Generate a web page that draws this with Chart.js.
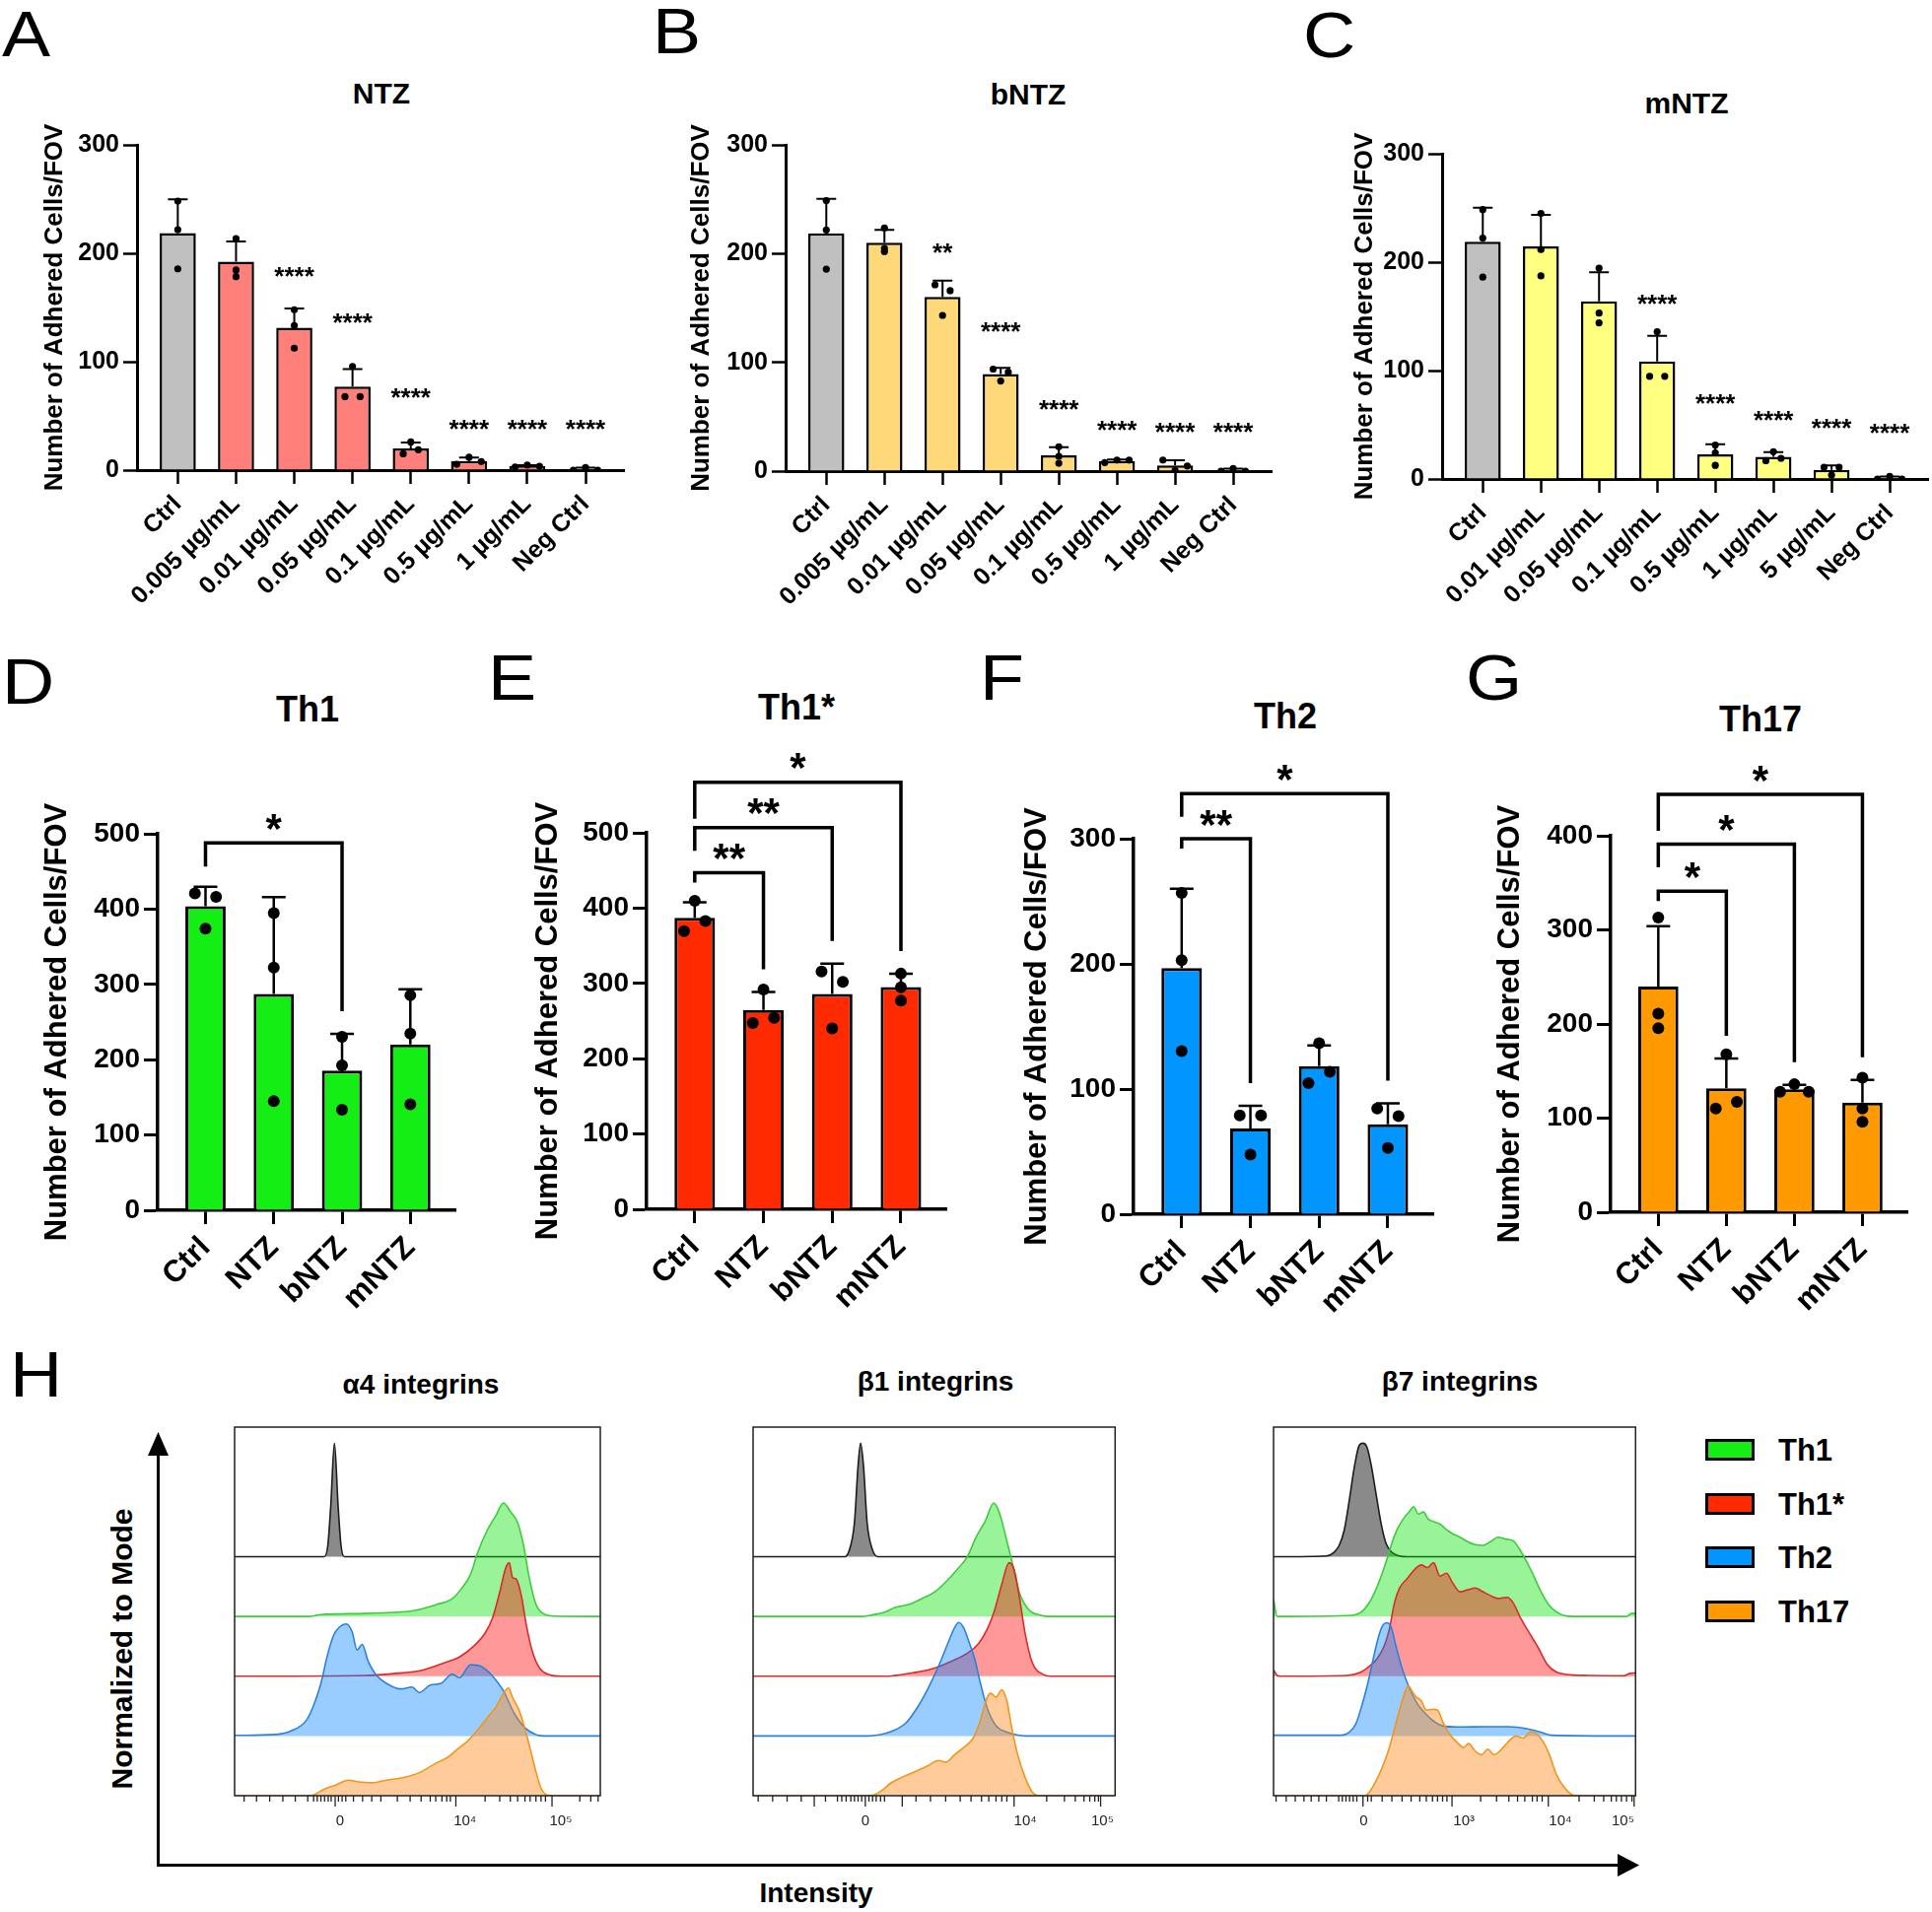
<!DOCTYPE html>
<html>
<head>
<meta charset="utf-8">
<script src="https://cdn.jsdelivr.net/npm/chart.js@4.4.1/dist/chart.umd.min.js"></script>
<style>
  body { margin: 0; background: #fff; width: 1960px; height: 1940px; position: relative; overflow: hidden;
         font-family: "Liberation Sans", Arial, sans-serif; color: #000; }
  canvas { position: absolute; }
  .txt { position: absolute; line-height: 1; white-space: nowrap; }
  .sw { position: absolute; box-sizing: border-box; border: 3px solid #000; width: 50px; height: 22px; }
</style>
</head>
<body>
<script>
// ---------- adhesion assays: replicate counts per condition (dots), bars = mean, whisker = +SD ----------
const concLabelsNTZ = ['Ctrl', '0.005 µg/mL', '0.01 µg/mL', '0.05 µg/mL', '0.1 µg/mL', '0.5 µg/mL', '1 µg/mL', 'Neg Ctrl'];
const concLabelsMNTZ = ['Ctrl', '0.01 µg/mL', '0.05 µg/mL', '0.1 µg/mL', '0.5 µg/mL', '1 µg/mL', '5 µg/mL', 'Neg Ctrl'];

const ntzReps  = [[248.1, 221.8, 185.7], [213.5, 184.6, 178.5], [147.9, 133.4, 112.5], [67.8, 95.6, 67.8],
                  [15.1, 26, 18.8], [5.4, 11.9, 7.9], [2.9, 4.7, 3.6], [0, 2.5, 0]];
const bntzReps = [[248.8, 221.8, 185.7], [223.6, 204.8, 202], [171.3, 143.2, 165.9], [93.8, 82.9, 90.9],
                  [22.4, 13.6, 7.2], [7.9, 10.1, 10.1], [10.1, 0.5, 4.7], [0, 2.5, 0]];
const mntzReps = [[248.5, 222.2, 186.2], [244.9, 211.7, 187.3], [194.5, 153, 144], [94.7, 135.8, 94.7],
                  [31.3, 24.1, 12.6], [16.9, 25.2, 19.1], [10.8, 3.6, 10.8], [0, 2.5, 0]];

const ntzStars  = ['', '', '****', '****', '****', '****', '****', '****'];
const bntzStars = ['', '', '**', '****', '****', '****', '****', '****'];
const mntzStars = ['', '', '', '****', '****', '****', '****', '****'];
const ntzStarAt  = [0, 0, 185, 142, 73, 44, 44, 44];
const bntzStarAt = [0, 0, 207, 134, 63, 44, 42, 42];
const mntzStarAt = [0, 0, 0, 167.5, 75.6, 60.5, 52.9, 48.6];

const subsetLabels = ['Ctrl', 'NTZ', 'bNTZ', 'mNTZ'];
const th1Reps  = [[420.9, 374, 416.2], [394.5, 322.4, 144.8], [230.4, 192.3, 133.6], [285.5, 234.5, 140.7]];
const th1sReps = [[369.3, 409.7, 382.8], [247.4, 291.9, 254.4], [315.9, 240.3, 301.9], [313, 294.8, 277.3]];
const th2Reps  = [[256.6, 203, 130.3], [79, 47.7, 79], [104.8, 136.6, 113.7], [84.4, 52.9, 78.4]];
const th17Reps = [[313.2, 211, 195.5], [110.2, 167.9, 117.2], [128, 136, 128], [143, 110.2, 96.1]];

// comparisons: [from, to, label, bracket level]
const th1Brackets  = [[0, 2, '*', 488]];
const th1sBrackets = [[0, 1, '**', 447], [0, 2, '**', 507], [0, 3, '*', 567]];
const th2Brackets  = [[0, 1, '**', 300], [0, 3, '*', 336]];
const th17Brackets = [[0, 1, '*', 341], [0, 2, '*', 391], [0, 3, '*', 444]];

// ---------- flow cytometry histograms: [intensity position (% of axis), % of mode] ----------
const a4Iso  = [[0,0],[24.5,0],[25.5,10],[26.3,45],[27.3,100],[28.3,45],[29.1,10],[30,0],[100,0]];
const a4Th1  = [[0,0],[20,0],[23.6,1.6],[35.5,2.6],[43.5,3.6],[48.5,4.9],[55.5,10.8],[59.5,15.7],[61.9,23.9],[64.5,36.9],[66.5,56.5],[69.1,76.1],[71.5,89.2],[73.5,100],[75.4,92.5],[77.4,82.7],[79,63],[80.4,37],[82.4,10.8],[84.4,2.6],[87.4,0.3],[100,0]];
const a4Th1s = [[0,0],[35.5,0.7],[43.5,2.3],[51.5,5.5],[57.5,12],[61.5,17],[65.5,26.8],[68.5,38],[70.5,51],[72.5,74],[74.1,95],[75.1,100],[76,87],[77,85.6],[78.4,71],[79.8,44.6],[81.4,21.9],[83.4,7.2],[86.4,1],[89.4,0],[100,0]];
const a4Th2  = [[0,0.5],[11.2,1.3],[15.6,4.6],[19.6,13.7],[21.6,26.8],[23.6,46.4],[25.5,72.5],[27.1,88.9],[28.5,95.4],[30.5,98.7],[32.1,92.2],[33.5,75.8],[34.9,80.7],[36.5,66],[38.5,54.6],[41.5,46.4],[45.5,41.5],[48.5,43.1],[50.5,38.2],[53.5,44.8],[56.5,46.4],[59.5,54.6],[61.5,51.3],[64.5,62.7],[67.5,61.1],[70.5,52.9],[73.5,39.9],[76.4,20.3],[79.4,7.2],[82.4,1.3],[85.4,0],[100,0]];
const a4Th17 = [[0,0],[20,0],[21.6,0.7],[24.6,5.9],[27.5,9.2],[31.1,13.7],[33.5,12.4],[37.5,11.4],[41.5,13.7],[46.5,16.3],[50.5,20.3],[55.5,29.4],[58.5,34.3],[61.5,42.5],[63.5,47.4],[66.5,58.2],[69.1,68.6],[71.5,78.4],[73.5,89.9],[74.9,94.8],[76,86.6],[77.8,75.2],[79.4,58.8],[81,39.2],[82.4,21.2],[83.8,6.5],[85.4,0.7],[87.4,0],[100,0]];

const b1Iso  = [[0,0],[25,0],[26.5,5],[28,30],[29,80],[29.7,100],[30.5,80],[31.5,30],[33,6],[34.5,0],[100,0]];
const b1Th1  = [[0,0],[30,0],[32.3,1],[36.3,3.8],[39.2,7.9],[43.2,10.7],[47.2,16.6],[50.2,21.7],[53.2,30.3],[56.2,40.7],[59.2,52.8],[61.6,70],[64.1,83.8],[66.5,100],[68.1,90.7],[70.1,66.6],[71.7,45.9],[73.5,21.7],[76.1,6.2],[79.5,1],[82.1,0],[100,0]];
const b1Th1s = [[0,0],[35,0],[38.2,0.3],[44.2,3],[50.2,7.2],[55.2,13.8],[59.2,20.3],[62.2,28.5],[64.7,41.6],[66.7,58],[68.7,81],[70.7,100],[72.1,94],[73.5,71],[75.1,38.4],[77.1,12.1],[80.1,1.6],[82.1,0],[100,0]];
const b1Th2  = [[0,0],[32,0],[34.3,0.7],[38.2,4],[42.2,11.4],[45.2,24.2],[48.2,41.1],[51.2,61.3],[53.8,81.5],[55.6,95],[56.8,100],[58.2,95],[59.6,83.2],[61.2,68],[62.7,47.8],[64.7,24.2],[67.1,9.1],[70.1,3.4],[73.1,0.7],[75.1,0],[100,0]];
const b1Th17 = [[0,0],[31,0],[33.3,0.7],[35.7,4.9],[38.2,11.5],[41.2,16.4],[44.8,21.3],[48.2,26.2],[51.2,31.1],[53.2,29.5],[55.6,36],[58.2,42.6],[60.8,50.8],[62.7,65.6],[64.7,86.9],[65.7,90.2],[67.1,86.9],[68.7,93.4],[70.1,83.6],[71.5,59],[73.1,36],[75.1,16.4],[77.1,3.3],[79.1,0],[100,0]];

const b7Iso  = [[0,0],[14.6,0.7],[16.7,3.9],[18.1,9.8],[19.5,23],[20.9,49.2],[22.3,78.7],[23.7,98.4],[24.7,100],[25.8,96.7],[26.9,82],[28.3,55.7],[29.7,29.5],[31.1,11.5],[32.7,3.9],[34.8,0.7],[36.9,0],[100,0]];
const b7Th1  = [[0,15],[1,0],[21.6,1],[24.4,4.3],[26.5,12.5],[28.3,23.9],[29.9,37],[31.3,50.2],[32.7,64.9],[34.1,76.4],[35.9,86.2],[37.6,92.8],[38.7,96.7],[40,90.2],[41.4,92.1],[42.8,85.6],[44.2,83.6],[46,81.3],[47.8,76.4],[49.4,73.1],[51.5,69.8],[53.6,65.9],[55.7,63.3],[57.8,62.6],[59.9,65.9],[62,69.8],[64.1,68.2],[66.2,66.6],[67.8,60],[69.6,50.2],[71.7,37],[73.8,22.3],[75.9,10.8],[78,4.3],[80.1,1],[82.9,0],[97.5,0],[98.9,2.6],[100,2.6]];
const b7Th1s = [[0,5.6],[1,0.7],[2,0],[20.2,0.7],[23.7,3],[26.5,8.9],[28.6,15.4],[30.6,26.9],[32,41.6],[33.4,64.6],[34.8,77.7],[36.9,85.9],[39,94.1],[40.8,98],[42.5,95.7],[44.2,100],[46,88.2],[47.8,90.8],[49.4,82.6],[51.5,74.4],[53.6,76.1],[55.7,77.7],[57.8,74.4],[59.9,71.1],[62,68.5],[64.5,69.5],[66.2,64.6],[68.2,51.5],[70.3,40],[73.1,25.2],[75.6,10.5],[78,3.9],[80.8,1.6],[87,0.7],[96.8,0.3],[98.2,2.3],[100,3]];
const b7Th2  = [[0,0.7],[18.8,0.7],[20.9,3.3],[22.7,10.5],[24.4,26.9],[25.8,43.3],[27.2,63],[28.6,82.6],[29.9,95.7],[31.3,99.7],[32.5,95.7],[33.8,79.3],[35.5,59.7],[37.6,41.6],[39.7,28.5],[41.8,20.3],[43.9,13.8],[46.7,8.9],[50.8,7.9],[59.2,8.2],[64.8,8.2],[70.3,6.2],[73.8,3.3],[76.6,0.7],[100,0]];
const b7Th17 = [[0,0],[25.1,0],[26.5,3.3],[28.6,14.8],[30.6,29.5],[32,42.6],[33.4,59],[34.8,75.4],[36.2,90.2],[37.2,96.7],[38.3,91.8],[39.4,86.9],[40.8,83.6],[42.2,75.4],[43.9,76.1],[45.3,75.4],[46.9,63.9],[48.7,54.1],[50.8,46.6],[52.5,42.6],[53.9,45.9],[55.7,39.3],[57.5,36.1],[59.2,41],[60.9,36.1],[62.7,40],[64.8,47.5],[66.9,52.5],[69,50.8],[71,56.4],[72.8,54.1],[74.5,47.5],[76.2,36.1],[78,19.7],[80.1,8.2],[82.6,0.7],[84.3,0],[100,0]];

// axis tick labels of the cytometry plots
const a4TickPos = [28.8, 63, 89.2],       a4TickText = ['0', '10⁴', '10⁵'];
const b1TickPos = [31, 75.2, 96.5],       b1TickText = ['0', '10⁴', '10⁵'];
const b7TickPos = [24.9, 52.6, 79.2, 96.5], b7TickText = ['0', '10³', '10⁴', '10⁵'];
const a4Major = [27.5, 60.5, 86.8];
const a4Minor = [2.6,6,9.6,13.2,16.6,20,21.6,22.6,23.6,24.6,25.6,26.4,28.4,29.4,30.4,32.5,35,37.5,40,44.5,48,51,53.5,55,56.7,58,59,68.5,72.5,75.4,77.4,79.4,80.8,82.4,83.8,85,94.4,97.4,99.4];
const b1Major = [16.9, 31, 41.2, 72.1, 96];
const b1Minor = [1.4,5.4,9.4,13.3,20,23.3,24.5,25.7,27,28,29,30,32,33,34,35.2,36.3,45,49,53.2,57.2,60.2,63.1,65.1,67.1,68.7,70.1,81.1,86,89,91.4,93,94.4,95.4];
const b7Major = [24.7, 49.3, 75.9, 99.6];
const b7Minor = [0.7,3.5,6,8.4,10.4,12.5,14.6,18,19,20,21,22,23,26,27,30,32.7,35.5,38,40.4,42.2,43.9,45.3,46.7,47.9,57.2,61.6,65,67.4,69.4,71.5,72.8,74.2,84.4,88.6,91.2,93.3,94.7,96.1,97.5,99];

// ---------- helpers ----------
const FONT = '"Liberation Sans", Arial, sans-serif';
Chart.defaults.font.family = FONT;
Chart.defaults.color = '#000';
const CTRL_GREY = '#c0c0c0';

const mean = a => a.reduce((s, v) => s + v, 0) / a.length;
const sd = a => { const m = mean(a); return Math.sqrt(a.reduce((s, v) => s + (v - m) ** 2, 0) / (a.length - 1)); };

function text(str, x, y, size, o = {}) {
  const d = document.createElement('div');
  d.className = 'txt';
  d.textContent = str;
  d.style.left = x + 'px';
  d.style.top = y + 'px';
  d.style.fontSize = size + 'px';
  d.style.fontWeight = o.weight || 'bold';
  if (o.left) d.style.transformOrigin = '0 50%';
  d.style.transform = `translate(${o.left ? '0' : '-50%'}, -50%)` +
    (o.rotate ? ` rotate(${o.rotate}deg)` : '') + (o.sx ? ` scaleX(${o.sx})` : '');
  document.body.appendChild(d);
}

function canvasAt(left, top, w, h) {
  const c = document.createElement('canvas');
  c.width = w; c.height = h;
  c.style.left = left + 'px'; c.style.top = top + 'px';
  c.style.width = w + 'px'; c.style.height = h + 'px';
  document.body.appendChild(c);
  return c;
}

// ---------- bar panels ----------
const topStyle = { tick: 25, ytitle: 26, xlab: 25, star: 26, dot: 3.6, barPct: 0.62, barBorder: 2.5, errW: 2, cap: 20,
                   axisW: 3, tickW: 2.5, xh: 175, xpad: 6, spread: [0, 0.13, 0.21], greyCtrl: true };
const midStyle = { tick: 28, ytitle: 31, xlab: 31, star: 42, dot: 6, barPct: 0.59, barBorder: 3, errW: 2.5, cap: 24,
                   axisW: 3.5, tickW: 3, xh: 130, xpad: 6, spread: [0, 0.155, 0.21], greyCtrl: false };

function annotations(p, tops) {
  const st = p.style;
  return {
    id: 'annot',
    afterDatasetDraw(chart, args) {
      if (args.index !== 0) return;
      const { ctx, scales: { x, y } } = chart;
      ctx.save();
      ctx.strokeStyle = '#000';
      ctx.lineWidth = st.errW;
      ctx.beginPath();
      p.reps.forEach((r, i) => {
        const px = x.getPixelForValue(i);
        const y0 = y.getPixelForValue(mean(r)), y1 = y.getPixelForValue(tops[i]);
        ctx.moveTo(px, y0); ctx.lineTo(px, y1);
        ctx.moveTo(px - st.cap / 2, y1); ctx.lineTo(px + st.cap / 2, y1);
      });
      ctx.stroke();
      ctx.restore();
    },
    afterDraw(chart) {
      const { ctx, scales: { x, y } } = chart;
      ctx.save();
      ctx.fillStyle = '#000';
      ctx.strokeStyle = '#000';
      ctx.textAlign = 'center';
      ctx.textBaseline = 'alphabetic';
      ctx.font = `bold ${st.star}px ${FONT}`;
      (p.stars || []).forEach((s, i) => {
        if (s) ctx.fillText(s, x.getPixelForValue(i), y.getPixelForValue(p.starAt[i]) + 0.585 * st.star);
      });
      (p.brackets || []).forEach(([a, b, lab, level], k, all) => {
        const yl = y.getPixelForValue(level);
        const xa = x.getPixelForValue(a), xb = x.getPixelForValue(b);
        const leftEnd = yl + (all.length === 1 ? 24 : 10 + 13.5 * k);
        const rightEnd = y.getPixelForValue(tops[b]) - 23;
        ctx.lineWidth = 3.5;
        ctx.beginPath();
        ctx.moveTo(xa, leftEnd); ctx.lineTo(xa, yl); ctx.lineTo(xb, yl); ctx.lineTo(xb, rightEnd);
        ctx.stroke();
        ctx.fillText(lab, (xa + xb) / 2, yl - 25 + 0.585 * st.star);
      });
      ctx.restore();
    }
  };
}

function barPanel(p) {
  const st = p.style;
  const n = p.labels.length;
  const yw = p.area.l - p.cl;
  const w = p.area.r - p.cl + p.padRight;
  const h = p.padTop + (p.area.b - p.area.t) + st.xh + 4;
  const cv = canvasAt(p.cl, p.area.t - p.padTop, w, h);
  const means = p.reps.map(mean);
  const tops = p.reps.map(r => mean(r) + sd(r));
  const dots = [];
  p.reps.forEach((r, i) => {
    const off = st.spread[p.spread[i]];
    r.forEach((v, j) => dots.push({ x: i + (j - 1) * off, y: v }));
  });
  const lh = st.ytitle * 1.2;
  new Chart(cv, {
    type: 'bar',
    data: {
      datasets: [
        { data: means.map((m, i) => ({ x: i, y: m })),
          backgroundColor: means.map((_, i) => (i === 0 && st.greyCtrl) ? CTRL_GREY : p.color),
          borderColor: '#000', borderWidth: st.barBorder,
          barPercentage: st.barPct, categoryPercentage: 1, order: 2 },
        { type: 'scatter', data: dots, pointRadius: st.dot,
          backgroundColor: '#000', borderColor: '#000', borderWidth: 0, order: 1 }
      ]
    },
    options: {
      responsive: false, animation: false, events: [],
      layout: { padding: { left: 0, top: p.padTop, right: p.padRight, bottom: 4 } },
      plugins: { legend: { display: false }, tooltip: { enabled: false } },
      scales: {
        x: {
          type: 'linear', min: -0.7, max: n - 1 + 0.66, offset: false,
          afterBuildTicks: s => { s.ticks = p.labels.map((_, i) => ({ value: i })); },
          afterFit: s => { s.height = st.xh; },
          ticks: { autoSkip: false, minRotation: 45, maxRotation: 45, padding: st.xpad,
                   font: { size: st.xlab, weight: 'bold' }, color: '#000',
                   callback: (v, i) => p.labels[i] },
          grid: { display: true, drawOnChartArea: false, drawTicks: true, tickLength: 14,
                  tickWidth: st.tickW, tickColor: '#000', offset: false },
          border: { display: true, color: '#000', width: st.axisW }
        },
        y: {
          min: 0, max: p.yMax,
          afterFit: s => { s.width = yw; },
          ticks: { stepSize: 100, padding: 4, font: { size: st.tick, weight: 'bold' }, color: '#000' },
          grid: { display: true, drawOnChartArea: false, drawTicks: true, tickLength: 14,
                  tickWidth: st.tickW, tickColor: '#000' },
          border: { display: true, color: '#000', width: st.axisW },
          title: { display: true, text: 'Number of Adhered Cells/FOV', color: '#000',
                   font: { size: st.ytitle, weight: 'bold' },
                   padding: { top: 36 - lh / 2, bottom: 0 } }
        }
      }
    },
    plugins: [annotations(p, tops)]
  });
}

// ---------- histogram panels ----------
const ROWS = 6.17, MODE_ROWS = 1.9;
const histSeries = [
  { name: 'Isotype', line: '#1c1c1c', fill: 'rgba(60,60,60,0.6)',   base: 4 },
  { name: 'Th1',     line: '#3ccc3c', fill: 'rgba(0,225,0,0.4)',    base: 3, swatch: '#14ee14' },
  { name: 'Th1*',    line: '#dd2a2a', fill: 'rgba(255,0,0,0.4)',    base: 2, swatch: '#ff2a00' },
  { name: 'Th2',     line: '#2a82dc', fill: 'rgba(0,128,255,0.4)',  base: 1, swatch: '#0095ff' },
  { name: 'Th17',    line: '#f0961e', fill: 'rgba(255,140,30,0.45)', base: 0, swatch: '#ff9900' }
];

function histFrame(major, minor) {
  return {
    id: 'histFrame',
    afterDraw(chart) {
      const { ctx, chartArea: a, scales: { x } } = chart;
      ctx.save();
      ctx.strokeStyle = '#222';
      ctx.lineWidth = 1.5;
      ctx.strokeRect(a.left, a.top, a.right - a.left, a.bottom - a.top);
      ctx.lineWidth = 1.3;
      ctx.beginPath();
      major.forEach(v => { const px = x.getPixelForValue(v); ctx.moveTo(px, a.bottom); ctx.lineTo(px, a.bottom + 11); });
      minor.forEach(v => { const px = x.getPixelForValue(v); ctx.moveTo(px, a.bottom); ctx.lineTo(px, a.bottom + 6); });
      ctx.stroke();
      ctx.restore();
    }
  };
}

function histPanel(box, series, tickPos, tickText, major, minor) {
  const padL = 2, padT = 2, padR = 4, xh = 40;
  const cv = canvasAt(box.l - padL, box.t - padT, box.r - box.l + padL + padR, box.b - box.t + padT + xh + 2);
  new Chart(cv, {
    type: 'line',
    data: {
      datasets: histSeries.map((s, k) => ({
        data: series[k].map(([px, pct]) => ({ x: px, y: s.base + pct / 100 * MODE_ROWS })),
        borderColor: s.line, backgroundColor: s.fill, borderWidth: 1.6, pointRadius: 0,
        fill: { value: s.base }, order: 5 - k, cubicInterpolationMode: 'monotone'
      }))
    },
    options: {
      responsive: false, animation: false, events: [],
      layout: { padding: { left: padL, top: padT, right: padR, bottom: 2 } },
      plugins: { legend: { display: false }, tooltip: { enabled: false } },
      scales: {
        x: {
          type: 'linear', min: 0, max: 100,
          afterBuildTicks: s => { s.ticks = tickPos.map(v => ({ value: v })); },
          afterFit: s => { s.height = xh; },
          ticks: { autoSkip: false, maxRotation: 0, padding: 9, color: '#222',
                   font: { size: 15 }, callback: (v, i) => tickText[i] },
          grid: { display: false }, border: { display: false }
        },
        y: { display: false, min: 0, max: ROWS }
      }
    },
    plugins: [histFrame(major, minor)]
  });
}

// ---------- panel letters and titles ----------
[['A', 2, 35], ['B', 662, 32], ['C', 1322, 36], ['D', 2, 692], ['E', 495, 688], ['F', 994, 688], ['G', 1487, 688], ['H', 10, 1395]]
  .forEach(([l, x, y]) => text(l, x, y, 64, { weight: 'normal', left: true, sx: 1.15 }));

text('NTZ', 387, 95, 30);
text('bNTZ', 1043, 96, 30);
text('mNTZ', 1711, 105, 30);
text('Th1', 312, 720, 36);
text('Th1*', 808, 718, 36);
text('Th2', 1304, 727, 36);
text('Th17', 1786, 730, 36);

text('α4 integrins', 427, 1405, 28);
text('β1 integrins', 949, 1402, 28);
text('β7 integrins', 1481, 1402, 28);
text('Normalized to Mode', 124, 1673, 30, { rotate: -90 });
text('Intensity', 828, 1921, 28);

// legend of the cytometry plots
histSeries.slice(1).forEach((s, k) => {
  const cy = 1471 + k * 54.7;
  const sw = document.createElement('div');
  sw.className = 'sw';
  sw.style.left = '1730px';
  sw.style.top = (cy - 11) + 'px';
  sw.style.background = s.swatch;
  document.body.appendChild(sw);
  text(s.name, 1804, cy, 31, { left: true });
});

// frame arrows of panel H
document.body.insertAdjacentHTML('beforeend',
  '<svg style="position:absolute;left:0;top:0" width="1960" height="1940">' +
  '<line x1="160.5" y1="1894" x2="160.5" y2="1474" stroke="#000" stroke-width="3"/>' +
  '<polygon points="160.5,1453 150,1477 171,1477" fill="#000"/>' +
  '<line x1="159" y1="1892.5" x2="1644" y2="1892.5" stroke="#000" stroke-width="3"/>' +
  '<polygon points="1663,1892.5 1641,1881 1641,1904" fill="#000"/>' +
  '</svg>');

// ---------- charts ----------
barPanel({ area: { l: 139, r: 633, t: 147, b: 477 }, cl: 20, padTop: 25, padRight: 12, style: topStyle,
  labels: concLabelsNTZ, reps: ntzReps, spread: [0, 0, 0, 1, 1, 2, 2, 2], color: '#ff807b', yMax: 300,
  stars: ntzStars, starAt: ntzStarAt });
barPanel({ area: { l: 797, r: 1290, t: 147, b: 478 }, cl: 676, padTop: 25, padRight: 12, style: topStyle,
  labels: concLabelsNTZ, reps: bntzReps, spread: [0, 0, 1, 1, 0, 2, 2, 2], color: '#ffd87a', yMax: 300,
  stars: bntzStars, starAt: bntzStarAt });
barPanel({ area: { l: 1463, r: 1958, t: 156, b: 486 }, cl: 1349, padTop: 25, padRight: 2, style: topStyle,
  labels: concLabelsMNTZ, reps: mntzReps, spread: [0, 0, 0, 1, 0, 1, 1, 2], color: '#ffff80', yMax: 300,
  stars: mntzStars, starAt: mntzStarAt });

barPanel({ area: { l: 160, r: 462, t: 846, b: 1228 }, cl: 22, padTop: 130, padRight: 12, style: midStyle,
  labels: subsetLabels, reps: th1Reps, spread: [1, 0, 0, 0], color: '#14ee14', yMax: 500, brackets: th1Brackets });
barPanel({ area: { l: 656, r: 960, t: 845, b: 1227 }, cl: 520, padTop: 130, padRight: 12, style: midStyle,
  labels: subsetLabels, reps: th1sReps, spread: [1, 1, 1, 0], color: '#ff2a00', yMax: 500, brackets: th1sBrackets });
barPanel({ area: { l: 1150, r: 1454, t: 851, b: 1232 }, cl: 1016, padTop: 130, padRight: 12, style: midStyle,
  labels: subsetLabels, reps: th2Reps, spread: [0, 1, 1, 1], color: '#0095ff', yMax: 300, brackets: th2Brackets });
barPanel({ area: { l: 1634, r: 1935, t: 848, b: 1230 }, cl: 1496, padTop: 130, padRight: 12, style: midStyle,
  labels: subsetLabels, reps: th17Reps, spread: [0, 1, 2, 0], color: '#ff9900', yMax: 400, brackets: th17Brackets });

histPanel({ l: 238, r: 609, t: 1448, b: 1822 }, [a4Iso, a4Th1, a4Th1s, a4Th2, a4Th17], a4TickPos, a4TickText, a4Major, a4Minor);
histPanel({ l: 764, r: 1135, t: 1448, b: 1822 }, [b1Iso, b1Th1, b1Th1s, b1Th2, b1Th17], b1TickPos, b1TickText, b1Major, b1Minor);
histPanel({ l: 1292, r: 1663, t: 1448, b: 1822 }, [b7Iso, b7Th1, b7Th1s, b7Th2, b7Th17], b7TickPos, b7TickText, b7Major, b7Minor);
</script>
</body>
</html>
